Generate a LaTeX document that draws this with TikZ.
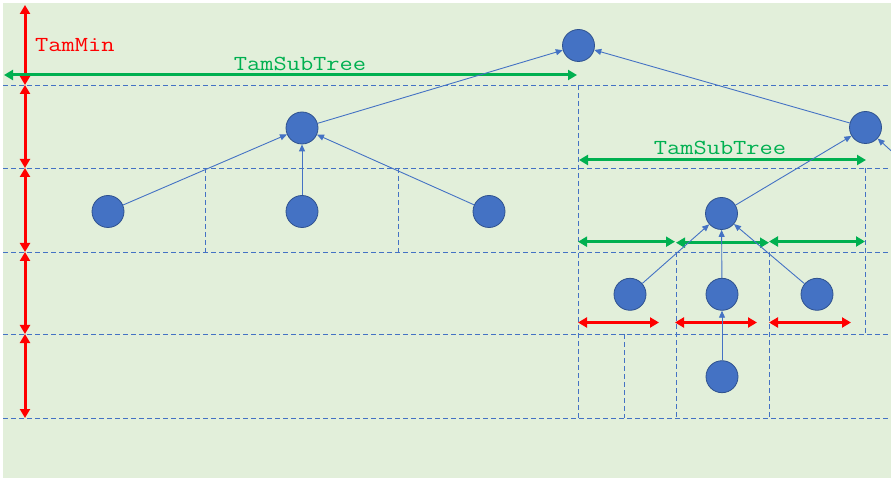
\documentclass[tikz,border=0pt]{standalone}
\usepackage{fontspec}
\newfontfamily\cmono[FakeStretch=1.2]{Latin Modern Mono}
\usetikzlibrary{arrows.meta}
\definecolor{bgc}{HTML}{E2EFDA}
\definecolor{nodeblue}{HTML}{4472C4}
\definecolor{nodeedge}{HTML}{2F528F}
\definecolor{grn}{HTML}{00B050}
\definecolor{rd}{HTML}{FF0000}
\tikzset{
  tnode/.style={circle, fill=nodeblue, draw=nodeedge, line width=0.8bp, minimum size=32bp, inner sep=0pt},
  tedge/.style={draw=nodeblue, line width=0.9bp, -{Triangle[length=7bp,width=6bp]}},
  grid/.style={draw=nodeblue, line width=0.9bp, dash pattern=on 5bp off 3bp},
  redarr/.style={draw=rd, line width=3bp, {Triangle[length=9bp,width=10bp]}-{Triangle[length=9bp,width=10bp]}},
  grnarr/.style={draw=grn, line width=3bp, {Triangle[length=9bp,width=10bp]}-{Triangle[length=9bp,width=10bp]}},
  lbl/.style={font=\cmono\fontsize{21.5}{26}\selectfont, inner sep=0pt}
}
\begin{document}
\begin{tikzpicture}[x=1bp,y=-1bp]
\useasboundingbox (0,0) rectangle (891,478);
\fill[white] (0,0) rectangle (891,478);
\fill[bgc] (3,3) rectangle (891,478);

% horizontal dashed lines
\foreach \yy in {85,168,252,334,418} \draw[grid] (3,\yy) -- (891,\yy);
% vertical dashed lines
\draw[grid] (578,85) -- (578,418);
\draw[grid] (205,168) -- (205,252);
\draw[grid] (398,168) -- (398,252);
\draw[grid] (865,168) -- (865,334);
\draw[grid] (676,252) -- (676,418);
\draw[grid] (769,252) -- (769,418);
\draw[grid] (624,334) -- (624,418);

% red vertical arrows
\draw[redarr] (25,5) -- (25,85);
\draw[redarr] (25,85) -- (25,168);
\draw[redarr] (25,168) -- (25,252);
\draw[redarr] (25,252) -- (25,334);
\draw[redarr] (25,334) -- (25,418);

% red horizontal arrows
\draw[redarr] (578,322.5) -- (659,322.5);
\draw[redarr] (675,322.5) -- (757,322.5);
\draw[redarr] (769,322.5) -- (851,322.5);

% green arrows
\draw[grnarr] (4,75) -- (577,75);
\draw[grnarr] (579,160) -- (866,160);
\draw[grnarr] (578,241.7) -- (675,241.7);
\draw[grnarr] (676,242.7) -- (769,242.7);
\draw[grnarr] (769,241.5) -- (865,241.5);

% labels
\node[lbl, text=rd, anchor=base west] (tmin) at (35,52) {TamMin};
\node[lbl, text=grn, anchor=base] (tst1) at (300,71) {TamSubTree};
\node[lbl, text=grn, anchor=base] (tst2) at (720,155) {TamSubTree};

% tree nodes
\node[tnode] (r) at (578.5,45.5) {};
\node[tnode] (a) at (302,128) {};
\node[tnode] (b) at (865.5,127.5) {};
\node[tnode] (a1) at (108,211.5) {};
\node[tnode] (a2) at (302,211.5) {};
\node[tnode] (a3) at (489,211.5) {};
\node[tnode] (b1) at (721.5,213.5) {};
\node[tnode] (c1) at (630,294.3) {};
\node[tnode] (c2) at (722,294.3) {};
\node[tnode] (c3) at (817,294.3) {};
\node[tnode] (d1) at (722,376.7) {};
\coordinate (off) at (891,150.7);

% edges
\draw[tedge] (a) -- (r);
\draw[tedge] (b) -- (r);
\draw[tedge] (a1) -- (a);
\draw[tedge] (a2) -- (a);
\draw[tedge] (a3) -- (a);
\draw[tedge] (b1) -- (b);
\draw[tedge] (off) -- (b);
\draw[tedge] (c1) -- (b1);
\draw[tedge] (c2) -- (b1);
\draw[tedge] (c3) -- (b1);
\draw[tedge] (d1) -- (c2);
\end{tikzpicture}
\end{document}
